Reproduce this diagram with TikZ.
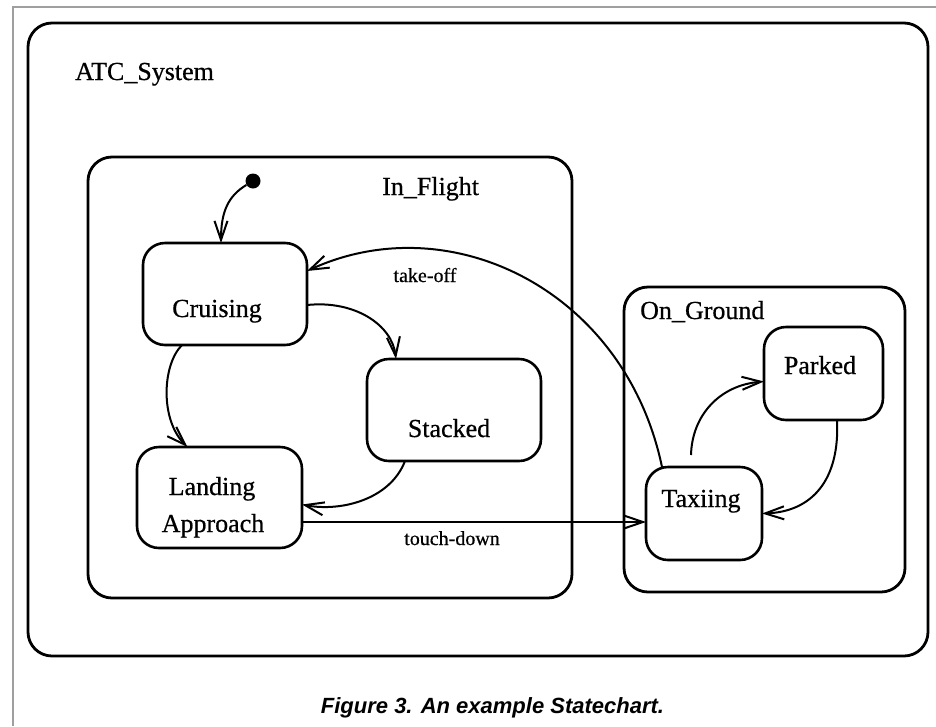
\documentclass[tikz,border=0pt]{standalone}
\usepackage{fontspec}
\setmainfont[FakeBold=0.6]{Liberation Serif}
\newfontfamily\capfont{Liberation Sans}
\usetikzlibrary{arrows.meta}

\begin{document}
\begin{tikzpicture}[x=1pt,y=-1pt,
  cont/.style={draw, rectangle, line width=2.8pt, rounded corners=24pt, inner sep=0pt, outer sep=0pt},
  stbox/.style={draw, rectangle, line width=2.6pt, rounded corners=22pt, inner sep=0pt, outer sep=0pt},
  nm/.style={font=\fontsize{26}{30}\selectfont, inner sep=0pt, anchor=base},
  ev/.style={font=\fontsize{20}{24}\selectfont, inner sep=0pt, anchor=base},
  tr/.style={line width=2pt, -{Straight Barb[length=19pt,width=13pt,line width=2pt]}},
]
% page and thin frame
\useasboundingbox (0,0) rectangle (936,726);
\fill[white] (0,0) rectangle (936,726);
\draw[gray!75, line width=1.5pt] (13,726) -- (13,7) -- (936,7);

% superstates
\node[cont, minimum width=900pt, minimum height=633pt] (atc) at (478,339.5) {};
\node[cont, minimum width=484pt, minimum height=441pt] (inf) at (330,377.5) {};
\node[cont, minimum width=281pt, minimum height=305pt] (ong) at (764.5,439.5) {};

\node[nm, anchor=base west] (latc) at (75,80) {ATC\_System};
\node[nm, anchor=base west] (linf) at (382,195) {In\_Flight};
\node[nm, anchor=base west] (long) at (640,319) {On\_Ground};

% states
\node[stbox, minimum width=164pt, minimum height=102pt] (cru) at (225,294) {};
\node[stbox, minimum width=174pt, minimum height=102pt] (stk) at (454,410) {};
\node[stbox, minimum width=165pt, minimum height=101pt] (land) at (219.5,497.5) {};
\node[stbox, minimum width=119pt, minimum height=93pt] (park) at (823.5,373.5) {};
\node[stbox, minimum width=116pt, minimum height=93pt] (taxi) at (704,513.5) {};

\node[nm] (tcru) at (217,317) {Cruising};
\node[nm] (tstk) at (449,437) {Stacked};
\node[nm] (tland1) at (212,495) {Landing};
\node[nm] (tland2) at (213,532) {Approach};
\node[nm] (tpark) at (820,374) {Parked};
\node[nm] (ttaxi) at (701,507) {Taxiing};

% initial pseudostate
\node[circle, fill=black, inner sep=0pt, minimum size=15pt] (init) at (253,181) {};

% transitions
\draw[tr] (init) .. controls (228,196) and (221,212) .. ([xshift=-4pt]cru.north);
\draw[tr] ([yshift=-11pt]cru.east) .. controls (355,300) and (392,325) .. ([xshift=-58pt]stk.north);
\draw[tr] ([xshift=-43pt]cru.south) .. controls (162,365) and (160,420) .. ([xshift=-32pt]land.north);
\draw[tr] ([xshift=-49pt]stk.south) .. controls (390,500) and (340,512) .. ([yshift=-7pt]land.east);
\draw[tr] ([xshift=-42pt]taxi.north) .. controls (625,290) and (450,205) .. ([yshift=23pt]cru.east);
\draw[tr] ([yshift=-24.5pt]land.east) -- ([yshift=-24.5pt]land.east -| taxi.west);
\draw[tr] ([xshift=-13pt,yshift=12pt]taxi.north) .. controls (692,415) and (720,385) .. ([yshift=-8pt]park.west);
\draw[tr] ([xshift=13.5pt]park.south) .. controls (840,480) and (812,512) .. (taxi.east);

% event labels
\node[ev] (ltake) at (425,282) {take-off};
\node[ev] (ltouch) at (452,545) {touch-down};

% caption
\node[inner sep=0pt, anchor=base] (cap) at (492.5,713)
  {\capfont\bfseries\itshape\fontsize{22}{26}\selectfont Figure 3. An example Statechart.};
\end{tikzpicture}
\end{document}
